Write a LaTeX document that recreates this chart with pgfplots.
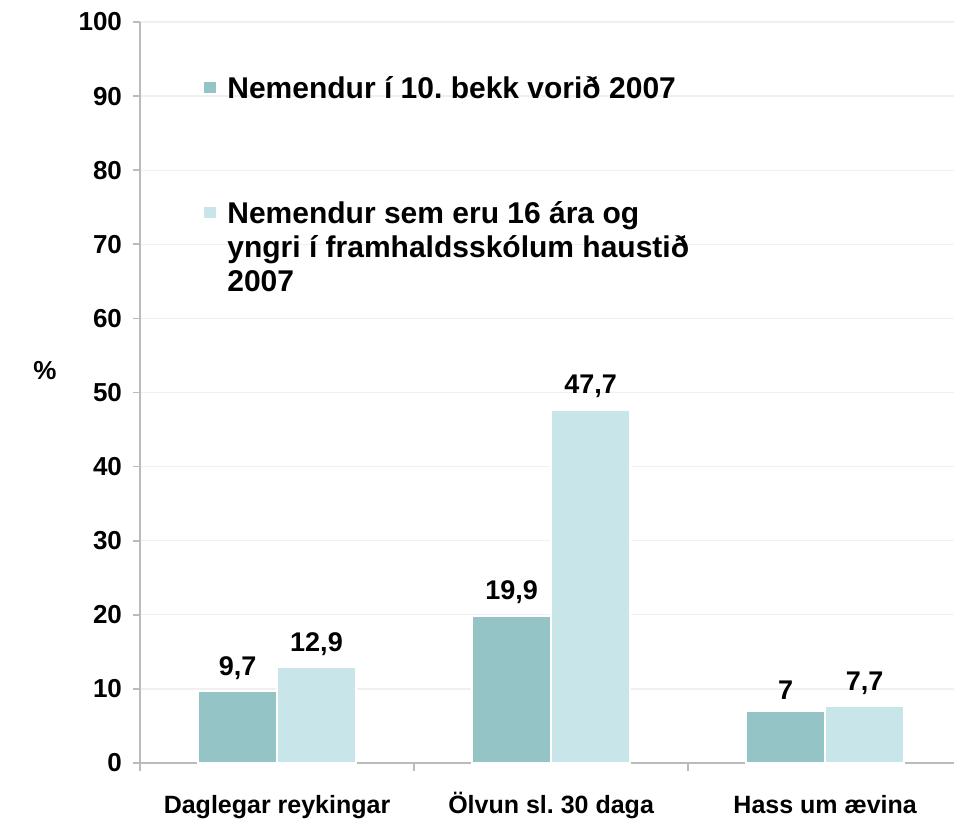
\documentclass[border=0pt]{standalone}
\usepackage{pgfplots}
\pgfplotsset{compat=1.18}
\usepackage{fontspec}
\setmainfont{Liberation Sans}
\frenchspacing
\definecolor{darkbar}{HTML}{95C4C6}
\definecolor{lightbar}{HTML}{C8E6EA}
\definecolor{axisgray}{HTML}{BBBBBB}
\begin{document}
\begin{tikzpicture}
\begin{axis}[
  scale only axis, width=407pt, height=370.5pt,
  ymin=0, ymax=100, ytick={0,10,...,100},
  xmin=-0.5, xmax=2.47,
  axis x line*=bottom, axis y line*=left,
  axis line style={axisgray, line width=0.8pt},
  ymajorgrids, grid style={gray!12, line width=0.6pt},
  tick align=outside, major tick length=3.5pt,
  ytick style={draw=axisgray, line width=0.8pt},
  xtick={0,1,2},
  xticklabels={Daglegar reykingar, Ölvun sl. 30 daga, Hass um ævina},
  xtick style={draw=none},
  extra x ticks={-0.5,0.5,1.5}, extra x tick labels={},
  extra x tick style={xtick style={draw=axisgray, line width=0.8pt}, major tick length=4pt},
  /pgf/number format/assume math mode=true,
  yticklabel style={font=\fontsize{13}{15}\selectfont\bfseries, xshift=-2pt},
  xticklabel style={font=\fontsize{12.5}{14}\selectfont\bfseries, text height=9pt, text depth=3pt, yshift=-9pt},
  ybar=0pt, bar width=0.288,
  nodes near coords,
  nodes near coords style={font=\fontsize{13.5}{15}\selectfont\bfseries, yshift=2pt,
    /pgf/number format/.cd, use comma, fixed, precision=1},
  legend style={at={(rel axis cs:0.07,0.938)}, anchor=north west, draw=none, fill=none,
    font=\fontsize{15}{17}\selectfont\bfseries, row sep=45pt,
    cells={anchor=base west}},
  legend image code/.code={\fill[#1,draw=none] (0pt,2pt) rectangle (6pt,8pt); \path (0pt,2pt) -- (9pt,2pt);},
  clip=false,
]
\addplot[fill=darkbar, draw=white, line width=1pt] coordinates {(0,9.7) (1,19.9) (2,7)};
\addplot[fill=lightbar, draw=white, line width=1pt] coordinates {(0,12.9) (1,47.7) (2,7.7)};
\addlegendentry{Nemendur í 10. bekk vorið 2007}
\addlegendentry{\begin{tabular}[t]{@{}l@{}}Nemendur sem eru 16 ára og\\yngri í framhaldsskólum haustið\\2007\end{tabular}}
\node[font=\fontsize{13}{15}\selectfont\bfseries] at ([xshift=-47.5pt]rel axis cs:0,0.53) {\%};
\coordinate (sw) at (rel axis cs:0,0);
\coordinate (ne) at (rel axis cs:1,1);
\end{axis}
\pgfresetboundingbox
\path (sw) ++(-70pt,-28.5pt) rectangle ([yshift=11pt]ne);
\end{tikzpicture}
\end{document}
